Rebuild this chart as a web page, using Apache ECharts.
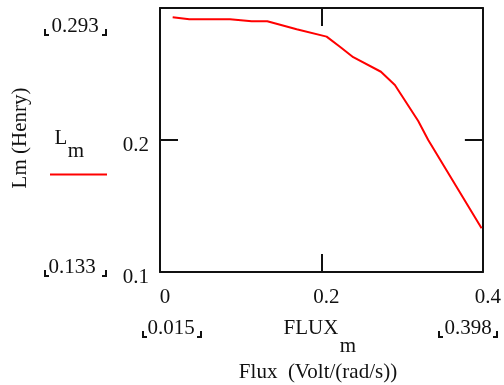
<!DOCTYPE html>
<html>
<head>
<meta charset="utf-8">
<script src="https://cdn.jsdelivr.net/npm/echarts@6/dist/echarts.min.js"></script>
<style>
html, body { margin: 0; padding: 0; background: #fff; }
#chart { width: 504px; height: 385px; }
</style>
</head>
<body>
<div id="chart"></div>
<script>
// data (FLUX_m vs L_m)
const fluxValues = [0.0157, 0.0363, 0.0867, 0.1136, 0.1329, 0.1693, 0.2064, 0.2229, 0.2394, 0.2737, 0.291, 0.3199, 0.3323, 0.3984]
const lmValues = [0.293, 0.2914, 0.2914, 0.2899, 0.2899, 0.2839, 0.2783, 0.2707, 0.2627, 0.2517, 0.2417, 0.2144, 0.2, 0.1331]
const xTicks = [0, 0.2, 0.4]
const yTicks = [0.1, 0.2]

const FONT = "'Liberation Serif', 'Times New Roman', serif"
const INK = '#111'

const chart = echarts.init(document.getElementById('chart'))

// Mathcad style corner marks round the limit labels
const bracket = (x1, x2, y) => [
    { type: 'polyline', shape: { points: [[x1, y - 6], [x1, y], [x1 + 4, y]] }, style: { stroke: INK, lineWidth: 2, fill: null } },
    { type: 'polyline', shape: { points: [[x2, y - 6], [x2, y], [x2 - 4, y]] }, style: { stroke: INK, lineWidth: 2, fill: null } }
]
const txt = (x, y, text, rot) => ({
    type: 'text', x: x, y: y, rotation: rot || 0,
    style: { text: text, font: '21px ' + FONT, fill: INK, align: 'center', verticalAlign: 'middle' }
})

const frameAxis = {
    axisLine: { show: true, onZero: false, lineStyle: { color: INK, width: 2 } },
    axisTick: { show: true, inside: true, length: 18, lineStyle: { color: INK, width: 2 } },
    splitLine: { show: false }
}

chart.setOption({
    animation: false,
    grid: { left: 160, right: 21, top: 8, bottom: 113 },
    xAxis: [
        Object.assign({
            type: 'value', position: 'bottom', min: 0, max: 0.4, interval: 0.2,
            axisLabel: {
                margin: 15, fontSize: 21, fontFamily: FONT, color: INK, padding: [0, 0, 0, 10],
                formatter: v => xTicks.indexOf(+v.toFixed(2)) >= 0 ? String(+v.toFixed(2)) : ''
            }
        }, frameAxis),
        Object.assign({
            type: 'value', position: 'top', min: 0, max: 0.4, interval: 0.2,
            axisLabel: { show: false }
        }, frameAxis)
    ],
    yAxis: [
        Object.assign({
            type: 'value', position: 'left', min: 0.1, max: 0.3, interval: 0.1,
            axisLabel: {
                margin: 11, fontSize: 21, fontFamily: FONT, color: INK,
                verticalAlign: 'top', lineHeight: 10,
                showMaxLabel: false,
                formatter: v => yTicks.indexOf(+v.toFixed(2)) >= 0 ? String(+v.toFixed(2)) : ''
            }
        }, frameAxis),
        Object.assign({
            type: 'value', position: 'right', min: 0.1, max: 0.3, interval: 0.1,
            axisLabel: { show: false }
        }, frameAxis)
    ],
    series: [
        {
            name: 'Lm',
            type: 'line',
            xAxisIndex: 0,
            yAxisIndex: 0,
            symbol: 'none',
            lineStyle: { color: '#ff0000', width: 2 },
            data: fluxValues.map((f, i) => [f, lmValues[i]])
        }
    ],
    graphic: [
        txt(20, 138, 'Lm (Henry)', Math.PI / 2),
        txt(61, 138, 'L'),
        txt(76, 151, 'm'),
        { type: 'line', shape: { x1: 50, y1: 174.5, x2: 107, y2: 174.5 }, style: { stroke: '#ff0000', lineWidth: 2 } },
        txt(75, 26, '0.293'),
        ...bracket(45, 106, 35),
        txt(72, 267, '0.133'),
        ...bracket(45, 106, 276),
        txt(171, 328, '0.015'),
        ...bracket(143, 201, 337),
        txt(468, 328, '0.398'),
        ...bracket(439, 497, 337),
        txt(311, 328, 'FLUX'),
        txt(348, 346, 'm'),
        txt(318, 372, 'Flux  (Volt/(rad/s))')
    ]
})
</script>
</body>
</html>
